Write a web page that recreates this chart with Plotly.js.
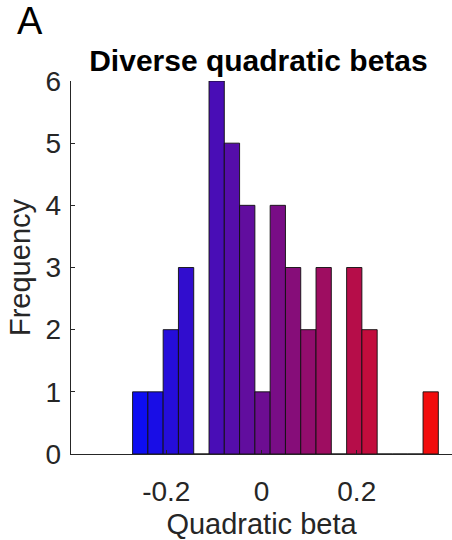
<!DOCTYPE html>
<html>
<head>
<meta charset="utf-8">
<script src="https://cdn.plot.ly/plotly-3.0.1.min.js"></script>
<style>
  html, body { margin: 0; padding: 0; background: #fff; }
  #chart { width: 452px; height: 540px; }
</style>
</head>
<body>
<div id="chart"></div>
<script>
// Histogram data
const binStart = -0.2707;   // left edge of first bin
const binWidth = 0.0321;    // bin width
const counts = [1, 1, 2, 3, 0, 6, 5, 4, 1, 4, 3, 2, 3, 0, 3, 2, 0, 0, 0, 1];
const xTickVals = [-0.2, 0, 0.2];
const xTickText = ['-0.2', '0', '0.2'];
const yTickVals = [0, 1, 2, 3, 4, 5, 6];

const n = counts.length;
const centers = counts.map((_, i) => binStart + (i + 0.5) * binWidth);
const colors = counts.map((_, i) => {
  const t = i / (n - 1);
  const r = Math.round((0.05 + 0.9 * t) * 255);
  const g = Math.round(0.05 * 255);
  const b = Math.round((0.95 - 0.9 * t) * 255);
  return `rgb(${r},${g},${b})`;
});

const FONT = 'Liberation Sans, Arial, Helvetica, sans-serif';
const INK = '#262626';

const trace = {
  type: 'bar',
  x: centers,
  y: counts,
  width: counts.map(() => binWidth),
  marker: { color: colors, line: { color: 'rgba(15,15,15,0.9)', width: 1 } },
  hoverinfo: 'x+y'
};

const layout = {
  width: 452,
  height: 540,
  margin: { l: 71, r: 0, t: 81, b: 86, pad: 0 },
  paper_bgcolor: '#ffffff',
  plot_bgcolor: '#ffffff',
  showlegend: false,
  bargap: 0,
  font: { family: FONT, color: INK },
  title: {
    text: '<b>Diverse quadratic betas</b>',
    font: { family: FONT, size: 30, color: '#000000' },
    xref: 'paper', x: 0.492, xanchor: 'center',
    yref: 'container', y: 1 - 60 / 540, yanchor: 'middle'
  },
  xaxis: {
    range: [-0.4, 0.4],
    tickvals: xTickVals,
    ticktext: xTickText,
    ticks: 'inside', ticklen: 4, tickwidth: 1, tickcolor: INK,
    showline: true, linecolor: INK, linewidth: 1.3,
    showgrid: false, zeroline: false,
    tickfont: { family: FONT, size: 28, color: INK },
    ticklabelstandoff: 12,
    title: { text: 'Quadratic beta', font: { family: FONT, size: 29, color: INK }, standoff: 10 },
    automargin: false,
    fixedrange: true
  },
  yaxis: {
    range: [0, 6],
    tickvals: yTickVals,
    ticks: 'inside', ticklen: 4, tickwidth: 1, tickcolor: INK,
    showline: true, linecolor: INK, linewidth: 1.3,
    showgrid: false, zeroline: false,
    tickfont: { family: FONT, size: 28, color: INK },
    ticklabelstandoff: 3,
    title: { text: 'Frequency', font: { family: FONT, size: 29, color: INK }, standoff: 6 },
    automargin: false,
    fixedrange: true
  },
  annotations: [{
    text: 'A',
    xref: 'paper', yref: 'paper',
    x: (15 - 71) / 381, xanchor: 'left',
    y: (454 - 21) / 373, yanchor: 'middle',
    showarrow: false,
    font: { family: FONT, size: 38, color: '#000000' }
  }]
};

Plotly.newPlot('chart', [trace], layout, { displayModeBar: false, staticPlot: true });
</script>
</body>
</html>
